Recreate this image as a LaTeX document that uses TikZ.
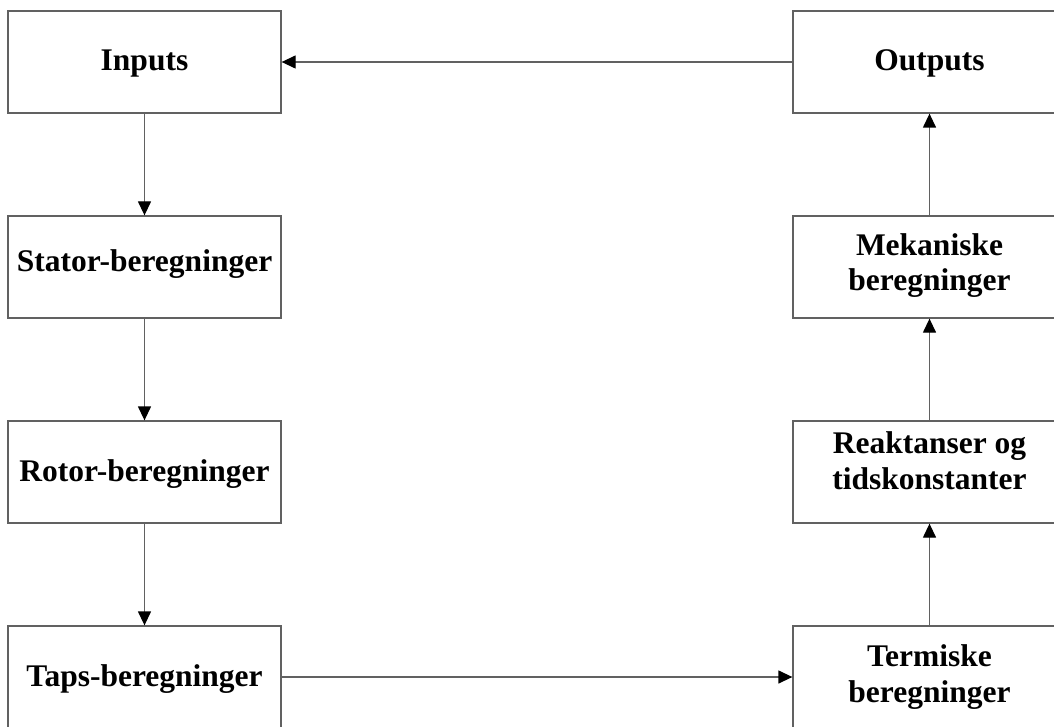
\documentclass[tikz,border=0pt]{standalone}
\usepackage{fontspec}
\setmainfont{Liberation Serif}
\usetikzlibrary{arrows.meta}
% box text: last baseline placed #1 above the node centre
\newcommand{\boxtext}[2]{\raisebox{#1}[0pt][0pt]{\begin{tabular}[b]{@{}c@{}}#2\end{tabular}}}
\begin{document}
\begin{tikzpicture}[x=1pt,y=-1pt,
  block/.style={draw=black!62,line width=1.3pt,rectangle,minimum width=273pt,minimum height=102pt,
    font=\fontsize{31.5}{36}\selectfont\bfseries,inner sep=0pt},
  flow/.style={draw=black!62,line width=1.3pt,-{Triangle[length=14pt,width=13pt,color=black]}}]
\useasboundingbox (0,0) rectangle (1054,727);
\clip (0,0) rectangle (1054,727);
% left column
\node[block] (in)   at (144.5,62)  {\boxtext{-9pt}{Inputs}};
\node[block] (stat) at (144.5,267) {\boxtext{-5pt}{Stator-beregninger}};
\node[block] (rot)  at (144.5,472) {\boxtext{-9pt}{Rotor-beregninger}};
\node[block] (taps) at (144.5,677) {\boxtext{-9pt}{Taps-beregninger}};
% right column
\node[block] (out)  at (929.5,62)  {\boxtext{-9pt}{Outputs}};
\node[block] (mek)  at (929.5,267) {\boxtext{-24pt}{Mekaniske\\beregninger}};
\node[block] (reak) at (929.5,472) {\boxtext{-17pt}{Reaktanser og\\tidskonstanter}};
\node[block] (term) at (929.5,677) {\boxtext{-25pt}{Termiske\\beregninger}};
% connectors
\draw[flow] (in) -- (stat);
\draw[flow] (stat) -- (rot);
\draw[flow] (rot) -- (taps);
\draw[flow] (taps) -- (term);
\draw[flow] (term) -- (reak);
\draw[flow] (reak) -- (mek);
\draw[flow] (mek) -- (out);
\draw[flow] (out) -- (in);
\end{tikzpicture}
\end{document}
